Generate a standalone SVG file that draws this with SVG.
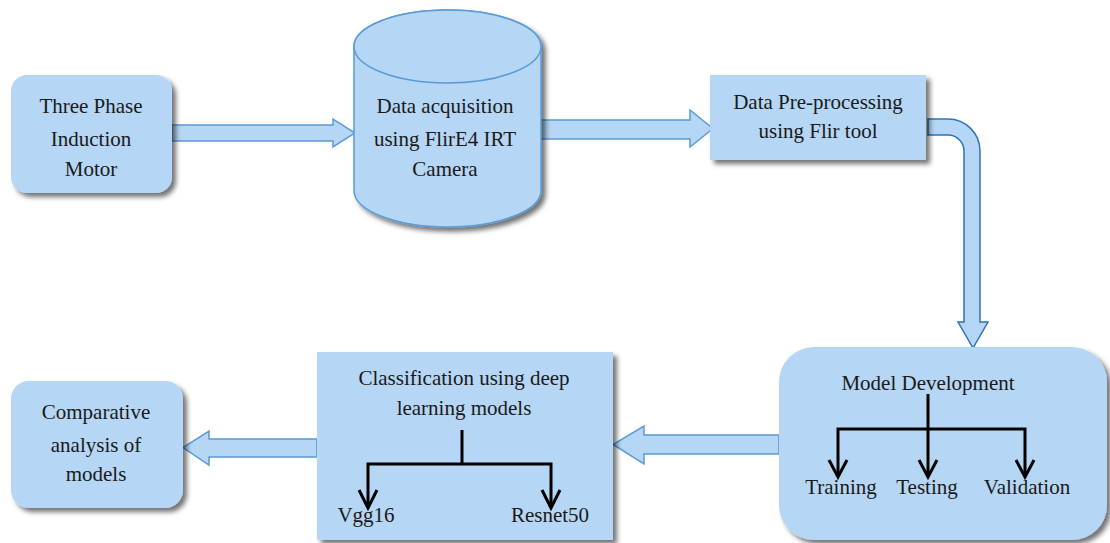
<svg xmlns="http://www.w3.org/2000/svg" width="1110" height="543" viewBox="0 0 1110 543">
<defs>
<filter id="sh" x="-10%" y="-10%" width="130%" height="130%">
<feDropShadow dx="4" dy="4" stdDeviation="2.5" flood-color="#000" flood-opacity="0.55"/>
</filter>
<marker id="v" viewBox="0 0 20 20" refX="10" refY="18" markerWidth="20" markerHeight="20" markerUnits="userSpaceOnUse" orient="auto-start-reverse">
<path d="M1,1 L10,18 L19,1" fill="none" stroke="#000" stroke-width="3"/>
</marker>
</defs>
<style>
.box{fill:#b5d6f4;filter:url(#sh)}
.cyl{fill:#b5d6f4;stroke:#5b9bd5;stroke-width:1.5}
.arr{fill:#b5d6f4;stroke:#5b9bd5;stroke-width:1.5;stroke-linejoin:miter}
.bent{fill:#b5d6f4;stroke:#2e75b6;stroke-width:1.5}
.t{font-family:"Liberation Serif",serif;font-size:21px;fill:#1a1a1a;text-anchor:middle}
.tree{fill:none;stroke:#000;stroke-width:3}
</style>
<rect width="1110" height="543" fill="#fff"/>

<g id="connectors">
<path class="arr" d="M172,125 H333 V119 L355,133 L333,147 V141 H172 Z"/>
<path class="arr" d="M541,120 H690 V110 L713,128.5 L690,147 V139 H541 Z"/>
<path class="bent" d="M928,119 H948 A32,32 0 0 1 980,151 V322 H988 L973,348 L958,322 H964 V151 A16,16 0 0 0 948,135 H928 Z"/>
<path class="arr" d="M779,435 H644 V426 L613,444.5 L644,464 V454 H779 Z"/>
<path class="arr" d="M317,439 H209 V431 L183,447.5 L209,465 V457 H317 Z"/>
</g>

<g id="n1">
<rect class="box" x="11" y="75" width="161" height="118" rx="16"/>
<text class="t" x="91" y="113">Three Phase</text>
<text class="t" x="91" y="146">Induction</text>
<text class="t" x="91" y="176">Motor</text>
</g>

<g id="n2">
<path class="cyl" d="M354,46.5 V190.5 A93.5,36.5 0 0 0 541,190.5 V46.5 A93.5,36.5 0 0 0 354,46.5 Z" filter="url(#sh)"/>
<ellipse class="cyl" cx="447.5" cy="46.5" rx="93.5" ry="36.5"/>
<text class="t" x="445" y="113">Data acquisition</text>
<text class="t" x="445" y="146">using FlirE4 IRT</text>
<text class="t" x="445" y="176">Camera</text>
</g>

<g id="n3">
<rect class="box" x="710" y="75" width="216" height="85"/>
<text class="t" x="818" y="109">Data Pre-processing</text>
<text class="t" x="818" y="138">using Flir tool</text>
</g>

<g id="n4">
<rect class="box" x="779" y="347" width="328" height="193" rx="35"/>
<text class="t" x="928" y="390">Model Development</text>
<path class="tree" d="M928,394 V475"/>
<path class="tree" d="M838,475 V429 H1025 V475"/>
<path class="tree" d="M829,460 L838,477 L847,460"/>
<path class="tree" d="M919,460 L928,477 L937,460"/>
<path class="tree" d="M1016,460 L1025,477 L1034,460"/>
<text class="t" x="841" y="494">Training</text>
<text class="t" x="927" y="494">Testing</text>
<text class="t" x="1027" y="494">Validation</text>
</g>

<g id="n5">
<rect class="box" x="317" y="352" width="296" height="188"/>
<text class="t" x="464" y="385">Classification using deep</text>
<text class="t" x="464" y="415">learning models</text>
<path class="tree" d="M462,430 V464"/>
<path class="tree" d="M368,506 V464 H551 V506"/>
<path class="tree" d="M359,490 L368,508 L377,490"/>
<path class="tree" d="M542,490 L551,508 L560,490"/>
<text class="t" x="366" y="522">Vgg16</text>
<text class="t" x="550" y="522">Resnet50</text>
</g>

<g id="n6">
<rect class="box" x="11" y="381" width="172" height="127" rx="18"/>
<text class="t" x="96" y="419">Comparative</text>
<text class="t" x="96" y="452">analysis of</text>
<text class="t" x="96" y="481">models</text>
</g>
</svg>
